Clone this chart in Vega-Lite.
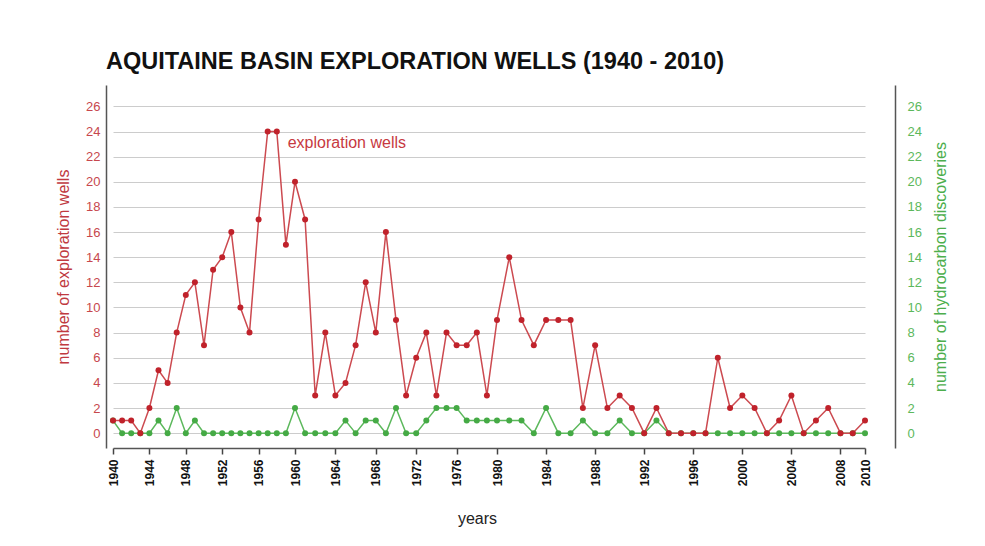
{
  "$schema": "https://vega.github.io/schema/vega-lite/v6.json",
  "autosize": {"type": "none"},
  "padding": {"left": 106, "top": 85, "right": 90, "bottom": 98},
  "width": 789,
  "height": 363,
  "background": "white",
  "title": {
    "text": "AQUITAINE BASIN EXPLORATION WELLS (1940 - 2010)",
    "anchor": "start",
    "frame": "group",
    "baseline": "alphabetic",
    "offset": 14,
    "dy": 21,
    "font": "Liberation Sans",
    "fontSize": 23.5,
    "fontWeight": "bold",
    "color": "#111111"
  },
  "config": {
    "view": {"stroke": null},
    "font": "Liberation Sans"
  },
  "datasets": {
    "wells": [
      {"year": 1940, "wells": 1, "discoveries": 1},
      {"year": 1941, "wells": 1, "discoveries": 0},
      {"year": 1942, "wells": 1, "discoveries": 0},
      {"year": 1943, "wells": 0, "discoveries": 0},
      {"year": 1944, "wells": 2, "discoveries": 0},
      {"year": 1945, "wells": 5, "discoveries": 1},
      {"year": 1946, "wells": 4, "discoveries": 0},
      {"year": 1947, "wells": 8, "discoveries": 2},
      {"year": 1948, "wells": 11, "discoveries": 0},
      {"year": 1949, "wells": 12, "discoveries": 1},
      {"year": 1950, "wells": 7, "discoveries": 0},
      {"year": 1951, "wells": 13, "discoveries": 0},
      {"year": 1952, "wells": 14, "discoveries": 0},
      {"year": 1953, "wells": 16, "discoveries": 0},
      {"year": 1954, "wells": 10, "discoveries": 0},
      {"year": 1955, "wells": 8, "discoveries": 0},
      {"year": 1956, "wells": 17, "discoveries": 0},
      {"year": 1957, "wells": 24, "discoveries": 0},
      {"year": 1958, "wells": 24, "discoveries": 0},
      {"year": 1959, "wells": 15, "discoveries": 0},
      {"year": 1960, "wells": 20, "discoveries": 2},
      {"year": 1961, "wells": 17, "discoveries": 0},
      {"year": 1962, "wells": 3, "discoveries": 0},
      {"year": 1963, "wells": 8, "discoveries": 0},
      {"year": 1964, "wells": 3, "discoveries": 0},
      {"year": 1965, "wells": 4, "discoveries": 1},
      {"year": 1966, "wells": 7, "discoveries": 0},
      {"year": 1967, "wells": 12, "discoveries": 1},
      {"year": 1968, "wells": 8, "discoveries": 1},
      {"year": 1969, "wells": 16, "discoveries": 0},
      {"year": 1970, "wells": 9, "discoveries": 2},
      {"year": 1971, "wells": 3, "discoveries": 0},
      {"year": 1972, "wells": 6, "discoveries": 0},
      {"year": 1973, "wells": 8, "discoveries": 1},
      {"year": 1974, "wells": 3, "discoveries": 2},
      {"year": 1975, "wells": 8, "discoveries": 2},
      {"year": 1976, "wells": 7, "discoveries": 2},
      {"year": 1977, "wells": 7, "discoveries": 1},
      {"year": 1978, "wells": 8, "discoveries": 1},
      {"year": 1979, "wells": 3, "discoveries": 1},
      {"year": 1980, "wells": 9, "discoveries": 1},
      {"year": 1981, "wells": 14, "discoveries": 1},
      {"year": 1982, "wells": 9, "discoveries": 1},
      {"year": 1983, "wells": 7, "discoveries": 0},
      {"year": 1984, "wells": 9, "discoveries": 2},
      {"year": 1985, "wells": 9, "discoveries": 0},
      {"year": 1986, "wells": 9, "discoveries": 0},
      {"year": 1987, "wells": 2, "discoveries": 1},
      {"year": 1988, "wells": 7, "discoveries": 0},
      {"year": 1989, "wells": 2, "discoveries": 0},
      {"year": 1990, "wells": 3, "discoveries": 1},
      {"year": 1991, "wells": 2, "discoveries": 0},
      {"year": 1992, "wells": 0, "discoveries": 0},
      {"year": 1993, "wells": 2, "discoveries": 1},
      {"year": 1994, "wells": 0, "discoveries": 0},
      {"year": 1995, "wells": 0, "discoveries": 0},
      {"year": 1996, "wells": 0, "discoveries": 0},
      {"year": 1997, "wells": 0, "discoveries": 0},
      {"year": 1998, "wells": 6, "discoveries": 0},
      {"year": 1999, "wells": 2, "discoveries": 0},
      {"year": 2000, "wells": 3, "discoveries": 0},
      {"year": 2001, "wells": 2, "discoveries": 0},
      {"year": 2002, "wells": 0, "discoveries": 0},
      {"year": 2003, "wells": 1, "discoveries": 0},
      {"year": 2004, "wells": 3, "discoveries": 0},
      {"year": 2005, "wells": 0, "discoveries": 0},
      {"year": 2006, "wells": 1, "discoveries": 0},
      {"year": 2007, "wells": 2, "discoveries": 0},
      {"year": 2008, "wells": 0, "discoveries": 0},
      {"year": 2009, "wells": 0, "discoveries": 0},
      {"year": 2010, "wells": 1, "discoveries": 0}
    ],
    "label": [
      {"year": 1959.2, "wells": 23.1, "text": "exploration wells"}
    ]
  },
  "encoding": {
    "x": {
      "field": "year",
      "type": "quantitative",
      "scale": {"domain": [1940, 1960, 1980, 2010], "range": [7, 189, 391, 759], "nice": false, "zero": false},
      "axis": {
        "title": "years",
        "titleFont": "Liberation Sans",
        "titleFontSize": 16,
        "titleFontWeight": "normal",
        "titleColor": "#222222",
        "titlePadding": 25,
        "titleX": 371,
        "values": [1940, 1944, 1948, 1952, 1956, 1960, 1964, 1968, 1972, 1976, 1980, 1984, 1988, 1992, 1996, 2000, 2004, 2008, 2010],
        "format": "d",
        "labelAngle": 270,
        "labelAlign": "right",
        "labelBaseline": "middle",
        "labelFontSize": 12,
        "labelFontWeight": "bold",
        "labelColor": "#111111",
        "labelPadding": 5,
        "labelOverlap": false,
        "labelFlush": false,
        "tickSize": 6,
        "tickColor": "#444444",
        "tickWidth": 1.5,
        "domainColor": "#555555",
        "domainWidth": 1.5,
        "grid": false
      }
    }
  },
  "layer": [
    {
      "data": {"name": "wells"},
      "mark": {"type": "line", "color": "#5cb85c", "strokeWidth": 1.5, "point": {"filled": true, "size": 36, "color": "#45aa45"}},
      "encoding": {
        "y": {
          "field": "discoveries",
          "type": "quantitative",
          "scale": {"domain": [-1.18, 27.7], "nice": false, "zero": false},
          "axis": {
            "orient": "right",
            "title": "number of hydrocarbon discoveries",
            "titleAngle": 270,
            "titleColor": "#4cae4c",
            "titleFontSize": 16,
            "titleFontWeight": "normal",
            "titlePadding": 27,
            "values": [0, 2, 4, 6, 8, 10, 12, 14, 16, 18, 20, 22, 24, 26],
            "labelColor": "#5cb85c",
            "labelFontSize": 13,
            "labelPadding": 12,
            "ticks": false,
            "grid": false,
            "domainColor": "#555555",
            "domainWidth": 1.5
          }
        }
      }
    },
    {
      "data": {"name": "wells"},
      "mark": {"type": "line", "color": "#cc4a50", "strokeWidth": 1.5, "point": {"filled": true, "size": 36, "color": "#c0222b"}},
      "encoding": {
        "y": {
          "field": "wells",
          "type": "quantitative",
          "scale": {"domain": [-1.18, 27.7], "nice": false, "zero": false},
          "axis": {
            "orient": "left",
            "title": "number of exploration wells",
            "titleColor": "#c0393f",
            "titleFontSize": 16,
            "titleFontWeight": "normal",
            "titlePadding": 14,
            "values": [0, 2, 4, 6, 8, 10, 12, 14, 16, 18, 20, 22, 24, 26],
            "labelColor": "#c7474d",
            "labelFontSize": 13,
            "labelPadding": 6,
            "ticks": false,
            "grid": true,
            "gridColor": "#cccccc",
            "gridWidth": 1,
            "domainColor": "#555555",
            "domainWidth": 1.5
          }
        }
      }
    },
    {
      "data": {"name": "label"},
      "mark": {"type": "text", "align": "left", "baseline": "middle", "fontSize": 16, "color": "#c7393f"},
      "encoding": {
        "text": {"field": "text"},
        "y": {"field": "wells", "type": "quantitative", "scale": {"domain": [-1.18, 27.7], "nice": false, "zero": false}, "axis": null}
      }
    }
  ],
  "resolve": {"scale": {"y": "independent"}}
}
